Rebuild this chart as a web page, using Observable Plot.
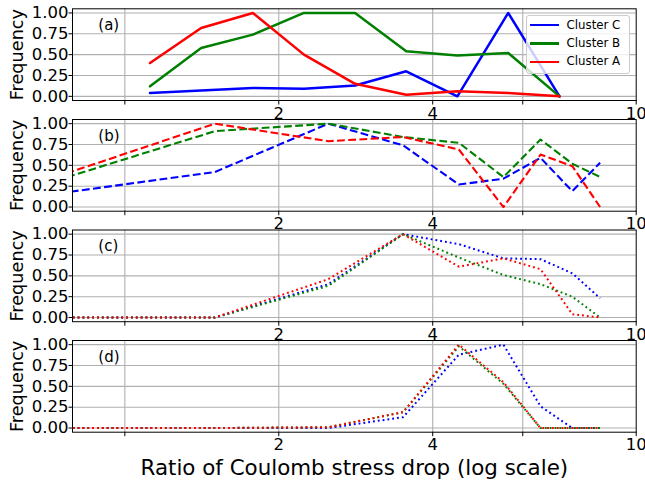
<!DOCTYPE html>
<html>
<head>
<meta charset="utf-8">
<script src="https://cdn.jsdelivr.net/npm/d3@7"></script>
<script src="https://cdn.jsdelivr.net/npm/@observablehq/plot@0.6"></script>
<style>
  body { margin: 0; background: white; }
  #chart { position: relative; width: 645px; height: 483px; overflow: hidden; font-family: "DejaVu Sans"; background: white; }
  #chart svg { position: absolute; left: 0; top: 0; overflow: visible; }
  .legend { position: absolute; box-sizing: border-box; border: 1px solid #cccccc; border-radius: 3px; background: rgba(255,255,255,0.8); }
  .legend-line { position: absolute; height: 2.5px; }
  .legend-text { position: absolute; font-size: 11.8px; line-height: 14px; color: black; white-space: nowrap; }
</style>
</head>
<body>
<div id="chart"></div>
<script>
// ---- data ----
const seriesNames = ["Cluster C", "Cluster B", "Cluster A"];
const seriesColors = ["#0000ff", "#008000", "#ff0000"];
const panelLabels = ["(a)", "(b)", "(c)", "(d)"];

// panel (a): log-spaced bins
const xA = [1.12, 1.41, 1.78, 2.24, 2.82, 3.55, 4.47, 5.62, 7.08];
const aC = [0.04, 0.07, 0.10, 0.09, 0.13, 0.30, 0.00, 1.00, 0.00];
const aB = [0.12, 0.58, 0.74, 1.00, 1.00, 0.54, 0.49, 0.52, 0.00];
const aA = [0.40, 0.82, 1.00, 0.50, 0.15, 0.02, 0.06, 0.04, 0.00];

// panels (b)-(d): linear bins
const xLin = [0.5, 1.5, 2.5, 3.5, 4.5, 5.5, 6.5, 7.5, 8.5];
const bC = [0.02, 0.42, 1.00, 0.74, 0.27, 0.34, 0.59, 0.19, 0.53];
const bB = [0.00, 0.91, 1.00, 0.84, 0.77, 0.36, 0.81, 0.52, 0.36];
const bA = [0.02, 1.00, 0.79, 0.84, 0.69, 0.00, 0.63, 0.49, 0.00];

const cC = [0.00, 0.00, 0.40, 1.00, 0.88, 0.71, 0.70, 0.53, 0.23];
const cB = [0.00, 0.00, 0.38, 1.00, 0.72, 0.51, 0.40, 0.25, 0.00];
const cA = [0.00, 0.00, 0.46, 1.00, 0.61, 0.71, 0.58, 0.04, 0.00];

const dC = [0.00, 0.00, 0.00, 0.13, 0.88, 1.00, 0.26, 0.00, 0.00];
const dB = [0.00, 0.00, 0.01, 0.19, 0.98, 0.53, 0.00, 0.00, 0.00];
const dA = [0.00, 0.00, 0.01, 0.19, 1.00, 0.55, 0.00, 0.00, 0.00];

const xTicks = [1, 2, 4, 6, 10];
const yTicks = [0, 0.25, 0.5, 0.75, 1];
const xLabel = "Ratio of Coulomb stress drop (log scale)";
const yLabel = "Frequency";

// ---- layout ----
const W = 645, H = 483;
const frameTops = [8.3, 119, 229.5, 340];
const frameH = 91.7;
const styles = [
  {strokeWidth: 2.5, strokeDasharray: null, strokeLinecap: "round"},
  {strokeWidth: 2.1, strokeDasharray: "7.8,3.4", strokeLinecap: "butt"},
  {strokeWidth: 2, strokeDasharray: "1.85,3", strokeLinecap: "butt"},
  {strokeWidth: 2, strokeDasharray: "1.85,3", strokeLinecap: "butt"}
];
const panels = [
  {x: xA, ys: [aC, aB, aA]},
  {x: xLin, ys: [bC, bB, bA]},
  {x: xLin, ys: [cC, cB, cA]},
  {x: xLin, ys: [dC, dB, dA]}
];

const chart = document.getElementById("chart");

panels.forEach((p, i) => {
  const top = frameTops[i];
  const lineMarks = p.ys.map((ys, s) => {
    const data = p.x.map((x, k) => ({x, y: ys[k]}));
    const st = styles[i];
    const opts = {x: "x", y: "y", stroke: seriesColors[s], strokeWidth: st.strokeWidth,
      strokeLinecap: st.strokeLinecap, strokeLinejoin: "round", clip: true};
    if (st.strokeDasharray) opts.strokeDasharray = st.strokeDasharray;
    return Plot.line(data, opts);
  });
  const marks = [
    Plot.gridX(xTicks.filter(d => d < 10), {stroke: "#b0b0b0", strokeOpacity: 1, strokeWidth: 1.1}),
    Plot.gridY(yTicks, {stroke: "#b0b0b0", strokeOpacity: 1, strokeWidth: 1.1}),
    ...lineMarks,
    Plot.frame({stroke: "black", strokeWidth: 1}),
    Plot.axisX(xTicks, {tickSize: 4.5, tickPadding: 2, label: null, fontSize: 16.5,
      tickFormat: d => d === 1 ? "" : String(d)}),
    Plot.axisY(yTicks, {tickSize: 3.5, tickPadding: 0.5, label: null, fontSize: 16.5,
      tickFormat: d3.format(".2f")}),
    Plot.text([panelLabels[i]], {frameAnchor: "top-left", dx: 25.8, dy: 16.5,
      textAnchor: "start", lineAnchor: "middle", fontSize: 15, fill: "black"}),
    Plot.text([yLabel], {frameAnchor: "left", rotate: -90, dx: -55.5, textAnchor: "middle",
      lineAnchor: "middle", fontSize: 17.7, fill: "black"})
  ];
  if (i === 3) {
    marks.push(Plot.text([xLabel], {frameAnchor: "bottom", dy: 35.5, textAnchor: "middle",
      lineAnchor: "middle", fontSize: 21.4, fill: "black"}));
  }
  const svg = Plot.plot({
    width: W, height: H,
    marginLeft: 72, marginRight: 9.3,
    marginTop: top, marginBottom: H - top - frameH,
    style: {background: "transparent", fontFamily: "DejaVu Sans", fontSize: "16.5px", color: "black", overflow: "visible"},
    x: {type: "log", domain: [0.79, 10], axis: null},
    y: {domain: [-0.05, 1.05], axis: null},
    marks
  });
  chart.appendChild(svg);
});

// ---- legend (panel a, upper right) ----
const legend = document.createElement("div");
legend.className = "legend";
Object.assign(legend.style, {left: "526px", top: "15px", width: "103.5px", height: "59px"});
chart.appendChild(legend);
const rowY = [25, 43.4, 61.8];
seriesNames.forEach((name, s) => {
  const ln = document.createElement("div");
  ln.className = "legend-line";
  Object.assign(ln.style, {left: "530px", top: (rowY[s] - 1.25) + "px", width: "28.5px", background: seriesColors[s]});
  chart.appendChild(ln);
  const tx = document.createElement("div");
  tx.className = "legend-text";
  tx.textContent = name;
  Object.assign(tx.style, {left: "566.5px", top: (rowY[s] - 7.5) + "px"});
  chart.appendChild(tx);
});
</script>
</body>
</html>
